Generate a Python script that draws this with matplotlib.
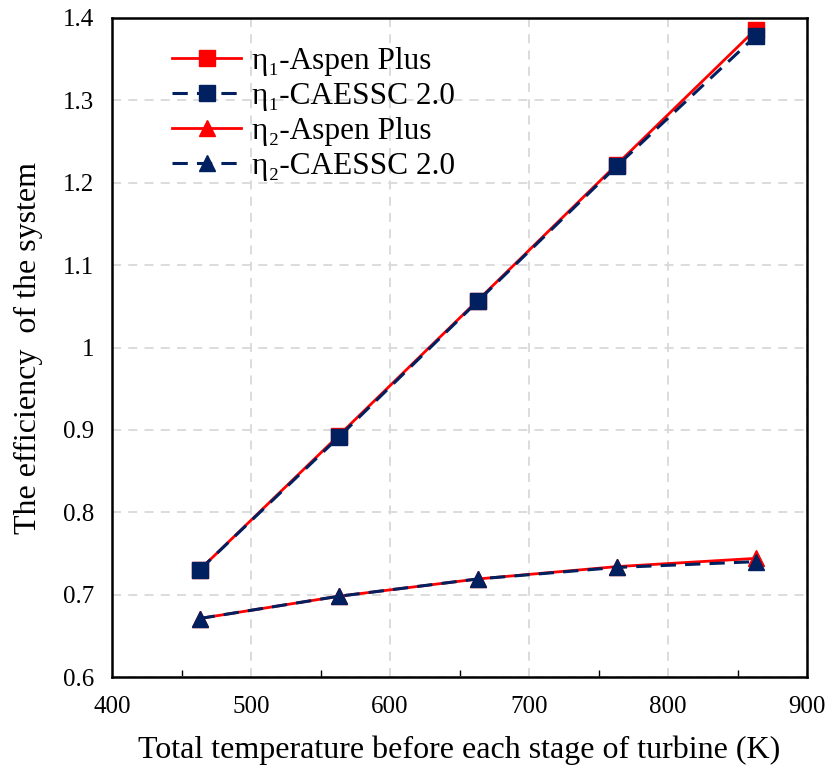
import matplotlib
matplotlib.use("Agg")
import matplotlib.pyplot as plt
from matplotlib.ticker import MultipleLocator

plt.rcParams['font.family'] = ['Liberation Serif', 'DejaVu Serif']

temps = [463, 563, 663, 763, 863]
eta1_aspen = [0.730, 0.893, 1.057, 1.222, 1.386]
eta1_caessc = [0.730, 0.891, 1.056, 1.220, 1.378]
eta2_aspen = [0.671, 0.698, 0.719, 0.734, 0.744]
eta2_caessc = [0.671, 0.698, 0.719, 0.733, 0.740]
labels = ["η₁-Aspen Plus", "η₁-CAESSC 2.0", "η₂-Aspen Plus", "η₂-CAESSC 2.0"]

red = "#FF0000"
navy = "#002060"

fig = plt.figure(figsize=(8.29, 7.69), dpi=100)
ax = fig.add_axes([112/829, 1-677/769, (807-112)/829, (677-18)/769])

ax.plot(temps, eta1_aspen, color=red, lw=2, marker='s', ms=11, label=labels[0], zorder=3)
ax.plot(temps, eta1_caessc, color=navy, lw=2.2, ls=(0, (5, 3)), marker='s', ms=11, label=labels[1], zorder=4)
ax.plot(temps, eta2_aspen, color=red, lw=2, marker='^', ms=11, label=labels[2], zorder=3)
ax.plot(temps, eta2_caessc, color=navy, lw=2.2, ls=(0, (5, 3)), marker='^', ms=11, label=labels[3], zorder=4)

ax.set_xlim(400, 900)
ax.set_ylim(0.6, 1.4)
ax.xaxis.set_major_locator(MultipleLocator(100))
ax.xaxis.set_minor_locator(MultipleLocator(50))
ax.set_yticks([0.6, 0.7, 0.8, 0.9, 1.0, 1.1, 1.2, 1.3, 1.4])
ax.set_yticklabels(["0.6", "0.7", "0.8", "0.9", "1", "1.1", "1.2", "1.3", "1.4"])
ax.tick_params(axis='x', which='major', direction='in', length=0, labelsize=18, pad=14)
ax.tick_params(axis='y', which='major', direction='in', length=0, labelsize=18, pad=13)
ax.tick_params(axis='x', which='minor', direction='in', length=5, width=1)
ax.grid(True, which='major', color='#D9D9D9', ls=(0, (5, 4)), lw=1.3)
for s in ax.spines.values():
    s.set_linewidth(1.8)
    s.set_color('black')

ax.set_xlabel("Total temperature before each stage of turbine (K)", fontsize=23, labelpad=12)
ax.set_ylabel("The efficiency  of the system", fontsize=23, labelpad=14)

leg = ax.legend(loc='upper left', bbox_to_anchor=(0.06, 0.985), frameon=False, fontsize=22.5,
                handlelength=2.2, labelspacing=0.2, handletextpad=0.35, borderaxespad=0.2)

fig.savefig("out.png", dpi=100)
